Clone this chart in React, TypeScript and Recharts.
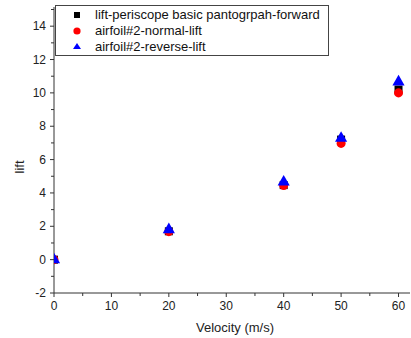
import React from 'react';
import {
  ScatterChart,
  Scatter,
  XAxis,
  YAxis,
  ZAxis,
  Legend,
} from 'recharts';

const velocity = [0, 20, 40, 50, 60];
const pantographForward = [0, 1.7, 4.47, 7.2, 10.2];
const airfoilNormal = [0, 1.68, 4.45, 6.97, 10.0];
const airfoilReverse = [0, 1.8, 4.66, 7.28, 10.66];

const xTicks = [0, 5, 10, 15, 20, 25, 30, 35, 40, 45, 50, 55, 60];
const yTicks = [-2, -1, 0, 1, 2, 3, 4, 5, 6, 7, 8, 9, 10, 11, 12, 13, 14, 15];

const seriesNames = [
  'lift-periscope basic pantogrpah-forward',
  'airfoil#2-normal-lift',
  'airfoil#2-reverse-lift',
];

const toPoints = (ys: number[]) => velocity.map((v, i) => ({ v, lift: ys[i] }));

const FONT = 'Arial, "Liberation Sans", sans-serif';
const AXIS = '#333';

const XTick = (props: any) => {
  const { x, y, payload } = props;
  const major = payload.value % 10 === 0;
  return (
    <g>
      <line x1={x} y1={y} x2={x} y2={y + (major ? 4 : 3)} stroke={AXIS} strokeWidth={1} />
      {major && (
        <text x={x} y={y + 17} textAnchor="middle" fontSize={12} fill="#222" fontFamily={FONT}>
          {payload.value}
        </text>
      )}
    </g>
  );
};

const YTick = (props: any) => {
  const { x, y, payload } = props;
  const major = payload.value % 2 === 0;
  return (
    <g>
      <line x1={x} y1={y} x2={x - (major ? 4 : 3)} y2={y} stroke={AXIS} strokeWidth={1} />
      {major && (
        <text x={x - 8} y={y + 4} textAnchor="end" fontSize={12} fill="#222" fontFamily={FONT}>
          {payload.value}
        </text>
      )}
    </g>
  );
};

const LegendBox = () => (
  <div
    style={{
      width: 274,
      height: 51,
      border: '1.5px solid #444',
      background: '#fff',
      fontFamily: FONT,
      fontSize: 13,
      color: '#111',
      boxSizing: 'border-box',
      position: 'relative',
    }}
  >
    {seriesNames.map((name, i) => (
      <div key={name} style={{ position: 'absolute', left: 39, top: 1 + i * 16, lineHeight: '16px', whiteSpace: 'nowrap' }}>
        {name}
      </div>
    ))}
    <svg width={20} height={48} style={{ position: 'absolute', left: 12, top: 0 }}>
      <rect x={6} y={6} width={6} height={6} fill="#000" />
      <circle cx={9} cy={25} r={3.6} fill="#ff0000" />
      <polygon points="9,37 13,43 5,43" fill="#0000ff" />
    </svg>
  </div>
);

const App = () => {
  return (
    <div style={{ position: 'absolute', left: 0, top: 0, background: '#fff' }}>
      <ScatterChart width={411} height={338} margin={{ top: 7, right: 1, bottom: 0, left: 0 }}>
        <XAxis
          type="number"
          dataKey="v"
          domain={[0, 62]}
          ticks={xTicks}
          interval={0}
          allowDataOverflow
          height={45}
          stroke={AXIS}
          tickLine={false}
          tickSize={0}
          tickMargin={0}
          tick={<XTick />}
          label={(p: any) => {
            const vb = p.viewBox;
            return (
              <text x={vb.x + vb.width / 2 + 3} y={vb.y + 39} textAnchor="middle" fontSize={13} fill="#222" fontFamily={FONT}>
                Velocity (m/s)
              </text>
            );
          }}
        />
        <YAxis
          type="number"
          dataKey="lift"
          domain={[-2, 15.15]}
          ticks={yTicks}
          interval={0}
          allowDataOverflow
          width={54}
          stroke={AXIS}
          tickLine={false}
          tickSize={0}
          tickMargin={0}
          tick={<YTick />}
          label={(p: any) => {
            const vb = p.viewBox;
            const cy = vb.y + vb.height / 2 + 17;
            return (
              <text x={24} y={cy} transform={`rotate(-90 24 ${cy})`} textAnchor="middle" fontSize={13} fill="#222" fontFamily={FONT}>
                lift
              </text>
            );
          }}
        />
        <ZAxis range={[32, 32]} />
        <Legend
          layout="horizontal"
          verticalAlign="middle"
          align="center"
          content={() => <LegendBox />}
          wrapperStyle={{ position: 'absolute', left: 55, top: 5, width: 'auto', height: 'auto' }}
        />
        <Scatter name={seriesNames[0]} data={toPoints(pantographForward)} fill="#000" shape="square" legendType="square" isAnimationActive={false} />
        <Scatter name={seriesNames[1]} data={toPoints(airfoilNormal)} fill="#ff0000" shape="circle" legendType="circle" isAnimationActive={false} />
        <Scatter name={seriesNames[2]} data={toPoints(airfoilReverse)} fill="#0000ff" shape="triangle" legendType="triangle" isAnimationActive={false} />
      </ScatterChart>
    </div>
  );
};

export default App;
